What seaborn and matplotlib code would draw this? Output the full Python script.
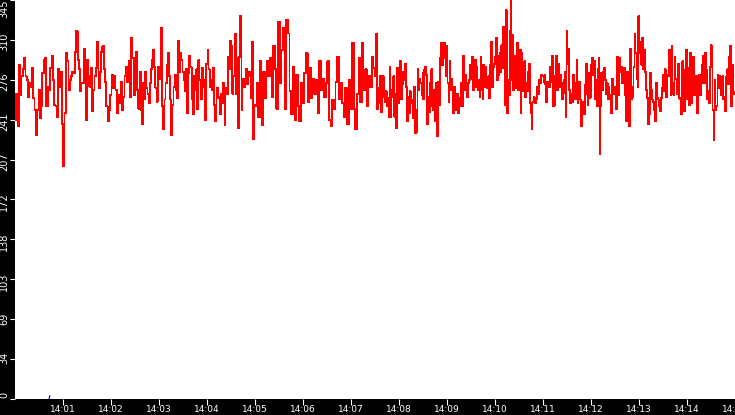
import numpy as np
import pandas as pd
import matplotlib
matplotlib.use("Agg")
import matplotlib.pyplot as plt
import matplotlib.dates as mdates
import matplotlib.transforms as mtransforms
import seaborn as sns

# values, one list per 2.5 minute stretch
seg1 = [241, 264, 236, 289, 263, 279, 285, 295, 279, 276, 261, 273, 270, 286, 260, 250,
        228, 250, 267, 243, 253, 282, 293, 295, 253, 270, 267, 286, 297, 276, 254, 253,
        244, 285, 270, 283, 238, 201, 247, 299, 292, 267, 276, 279, 283, 282, 300, 318,
        293, 285, 266, 273, 273, 303, 241, 293, 279, 270, 286, 249, 267, 279, 286, 309,
        269, 283, 300, 305, 285, 274, 253, 240, 250, 263, 280, 269, 279, 267, 247, 263,
        256, 274, 250, 261, 279, 287, 274, 292, 261, 312, 295, 263]
seg2 = [287, 300, 267, 251, 283, 250, 238, 273, 259, 283, 269, 264, 256, 273, 285, 293,
        302, 287, 269, 257, 287, 277, 285, 321, 253, 233, 259, 273, 289, 299, 279, 259,
        228, 254, 270, 280, 267, 260, 310, 283, 299, 293, 283, 276, 266, 285, 247, 282,
        297, 287, 259, 246, 279, 267, 285, 251, 293, 276, 259, 286, 270, 276, 241, 290,
        302, 285, 270, 276, 267, 286, 254, 240, 269, 260, 261, 246, 264, 256, 273, 237,
        269, 264, 296, 285, 310, 305, 264, 279, 316, 264, 295, 234, 296, 331, 250, 277,
        270, 273, 285, 272, 279, 283, 260, 309, 225, 254]
seg3 = [253, 273, 244, 292, 237, 283, 260, 292, 279, 295, 261, 305, 285, 251, 326, 273,
        302, 321, 251, 328, 316, 266, 246, 287, 241, 280, 253, 240, 273, 256, 282, 299,
        257, 286, 260, 277, 264, 276, 247, 292, 267, 277, 261, 273, 292, 241, 236, 259,
        251, 274, 296, 259, 273, 256, 244, 269, 238, 276, 251, 308, 251, 233, 264, 295,
        257, 308, 267, 285, 253, 279, 270, 296, 286]
seg4 = [279, 316, 251, 269, 256, 279, 248, 270, 279, 261, 257, 266, 253, 260, 244, 287,
        244, 267, 261, 279, 244, 264, 234, 286, 256, 279, 292, 259, 272, 283, 276, 290,
        270, 240, 261, 247, 266, 259, 256, 243, 270, 230, 250, 231, 285, 267, 277, 273,
        263, 282, 259, 285, 287, 280, 238, 261, 248, 273, 285, 253, 250, 267, 240, 273,
        227, 274, 254, 295, 308, 289, 300, 308, 295, 279, 305, 273, 257, 292, 267, 277,
        259, 247, 270, 250, 256, 264, 247, 260, 253, 273, 253, 297, 267, 280, 269, 261,
        273, 276, 289, 277, 296, 267, 286, 293, 270, 287, 267, 276, 261, 296, 267, 259,
        289, 270, 287, 276, 269, 279, 260, 289, 309, 270, 287, 290]
seg5 = [296, 312, 276, 297, 280, 299, 283, 306, 286, 322, 290, 254, 336, 247, 276, 263,
        318, 345, 276, 315, 267, 297, 279, 269, 308, 267, 283, 302, 247, 299, 286, 266,
        292, 261, 273, 266, 283, 290, 256, 247, 233, 257, 261, 260, 256, 259, 270, 264,
        276, 273, 280, 280, 279, 274, 280, 272, 257, 274, 270, 270, 287, 274, 297, 253,
        279, 254, 290, 297, 267, 290, 270, 280, 273, 259, 264, 276, 283, 244, 318, 290,
        303, 267, 256, 264, 257, 280, 259, 273, 259, 293, 256, 273, 274, 259, 236, 257,
        249, 246, 272, 290, 264, 254, 282, 260, 261, 289, 295, 280, 292, 259, 276, 253,
        285, 295, 212, 253, 282, 267, 283, 286, 276, 264, 273, 259, 270, 263, 259, 247,
        277, 264, 270]
seg6 = [269, 251, 296, 263, 295, 283, 287, 273, 276, 286, 263, 240, 283, 259, 236, 303,
        259, 270, 261, 287, 316, 299, 277, 270, 331, 299, 309, 289, 312, 285, 302, 283,
        267, 260, 238, 246, 282, 267, 259, 257, 250, 240, 273, 260, 259, 253, 249, 260,
        269, 280, 266, 285, 261, 280, 279, 302, 287, 263, 305, 273, 263, 296, 277, 264,
        283, 290, 260, 259, 246, 292, 282, 249, 285, 302, 259, 286, 254, 299, 256, 287,
        296, 263, 270, 279, 247, 279, 280, 263, 273, 289, 297, 273, 299, 285, 259, 266,
        256, 287, 306, 300, 250, 224, 276, 250, 253, 280, 269, 279, 276, 263, 279, 259,
        261, 249, 279, 285, 272, 296, 305, 253, 289, 264, 266]
segments = [seg1, seg2, seg3, seg4, seg5, seg6]
seg_seconds = 150

# small blue trace near zero
blue_seconds = [42.5, 43.5]
blue_values = [0, 3]

y_max = 345
y_ticks = [0, 34.5, 69, 103.5, 138, 172.5, 207, 241.5, 276, 310.5, 345]
start = pd.Timestamp("2024-01-01 14:00:00")
end = pd.Timestamp("2024-01-01 14:15:00")

# build the frame
rows = []
for k, seg in enumerate(segments):
    secs = np.linspace(k * seg_seconds, (k + 1) * seg_seconds, len(seg), endpoint=False)
    for s, v in zip(secs, seg):
        rows.append((start + pd.Timedelta(seconds=float(s)), v))
df = pd.DataFrame(rows, columns=["time", "value"])
blue = pd.DataFrame({"time": [start + pd.Timedelta(seconds=s) for s in blue_seconds],
                     "value": blue_values})

sns.set_style("white")
plt.rcParams["font.family"] = ["DejaVu Sans"]

fig = plt.figure(figsize=(7.35, 4.15), dpi=100, facecolor="black")
ax = fig.add_axes([15 / 735, 16 / 415, 720 / 735, 399 / 415])
ax.set_facecolor("white")

sns.lineplot(data=df, x="time", y="value", ax=ax, color="#ff0000", linewidth=0.6,
             drawstyle="steps-post", antialiased=False)
sns.lineplot(data=blue, x="time", y="value", ax=ax, color="#0000ff", linewidth=0.8)

ax.set_xlim(start, end)
ax.set_ylim(0, y_max)
ax.set_xlabel("")
ax.set_ylabel("")
for sp in ax.spines.values():
    sp.set_visible(False)

ax.xaxis.set_major_locator(mdates.MinuteLocator(byminute=range(1, 16)))
ax.xaxis.set_major_formatter(mdates.DateFormatter("%H:%M"))
ax.set_yticks(y_ticks)
ax.set_yticklabels([str(int(t)) for t in y_ticks])

ax.tick_params(axis="x", colors="white", direction="out", length=4, width=0.8,
               pad=0.5, labelsize=6.5, bottom=True)
ax.tick_params(axis="y", colors="white", direction="out", length=3.6, width=0.8,
               pad=0.5, labelsize=7, left=True)

shift = mtransforms.ScaledTranslation(0, 5 / 72, fig.dpi_scale_trans)
for i, lab in enumerate(ax.get_yticklabels()):
    lab.set_rotation(90)
    lab.set_va("top")
    lab.set_ha("right")
    if i < len(y_ticks) - 1:
        lab.set_transform(lab.get_transform() + shift)

fig.savefig("out.png", dpi=100, facecolor="black")
